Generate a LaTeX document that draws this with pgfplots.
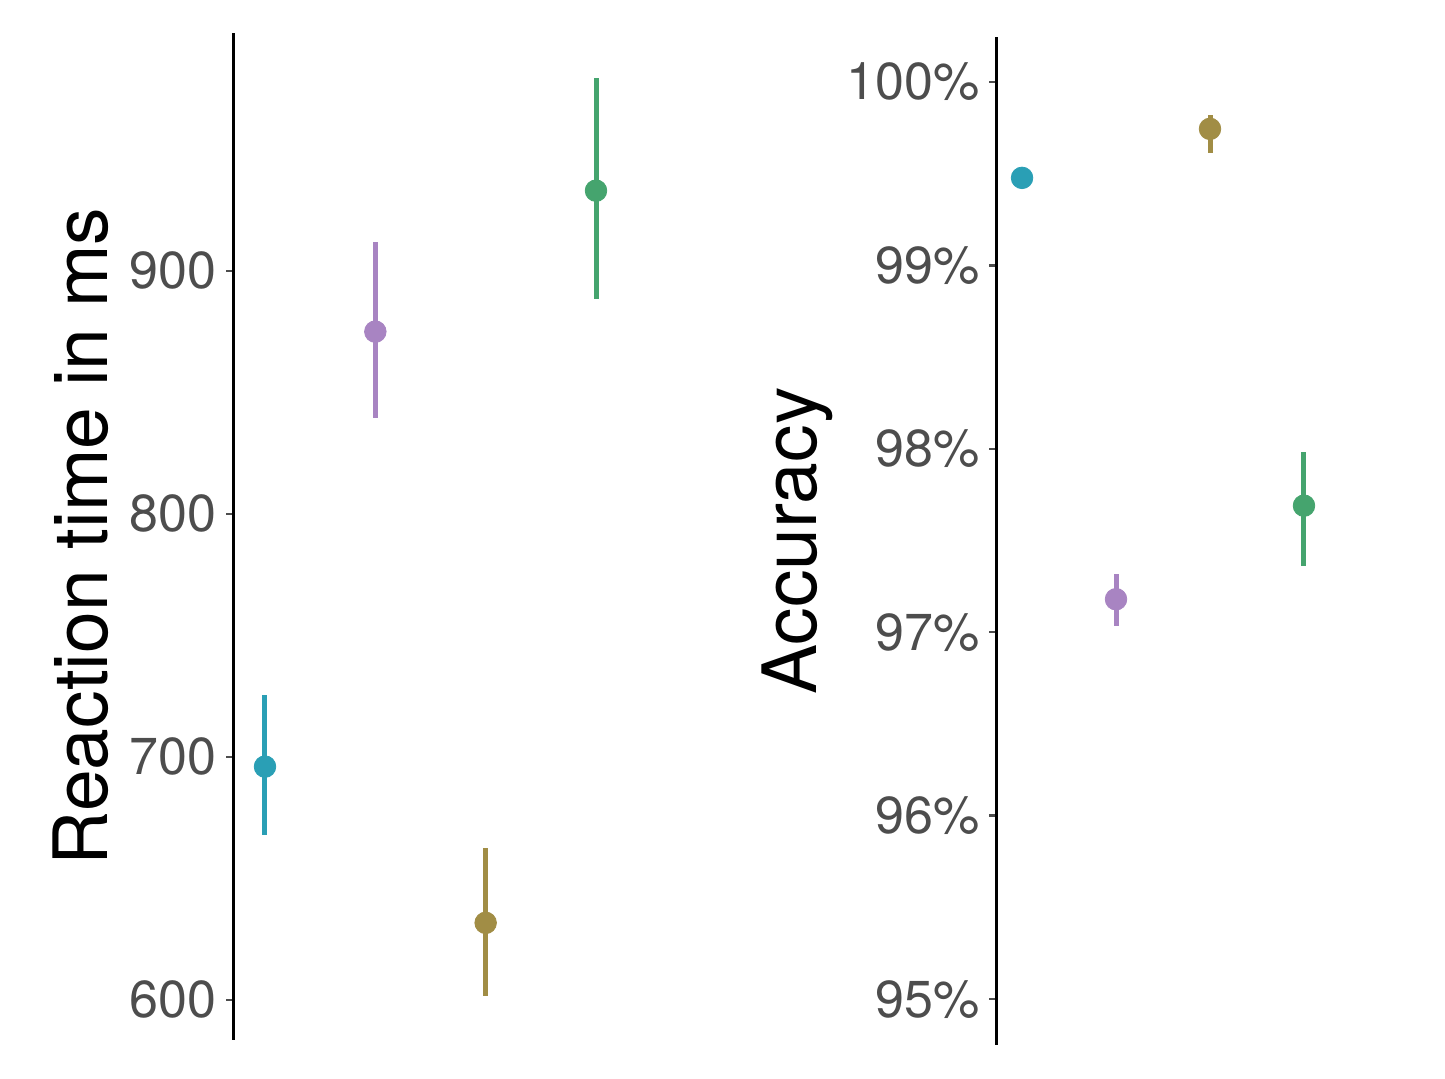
\documentclass[border=0pt]{standalone}
\usepackage{pgfplots}
\pgfplotsset{compat=1.18}
\usepackage{fontspec}
\setmainfont{TeX Gyre Heros}
\definecolor{cblue}{HTML}{2A9FB5}
\definecolor{cpurple}{HTML}{A884C2}
\definecolor{colive}{HTML}{A18D45}
\definecolor{cgreen}{HTML}{45A46E}
\definecolor{tickgray}{HTML}{4D4D4D}
\pgfplotsset{
  panel/.style={
    scale only axis,
    axis y line*=left,
    axis x line=none,
    xtick=\empty,
    y axis line style={black, line width=1.5pt, -},
    tick align=outside,
    major tick length=3.5pt,
    ytick style={color=tickgray, line width=1.2pt},
    yticklabel style={font=\fontsize{26}{30}\selectfont, color=tickgray, inner xsep=4.5pt},
    ylabel style={font=\fontsize{37.5}{42}\selectfont, color=black},
    /pgf/number format/assume math mode=true,
    clip=false,
  },
  ebar/.style={
    only marks, mark=*, mark size=5.4pt,
    error bars/.cd, y dir=both, y explicit,
    error bar style={line width=2.5pt}, error mark=none,
    /pgfplots/.cd,
  },
}
\begin{document}
\begin{tikzpicture}
\path[use as bounding box] (0,0) rectangle (722.5pt,539.5pt);
\begin{axis}[panel,
  at={(116.5pt,19.5pt)}, anchor=south west,
  width=197.5pt, height=503.5pt,
  xmin=-0.29, xmax=3.29,
  ymin=583.5, ymax=997.9,
  ytick={600,700,800,900},
  ylabel={Reaction time in ms},
  ylabel style={at={(axis description cs:-0.385,0.5)}, anchor=center},
]
\addplot[cblue, ebar] coordinates {(0,696) += (0,29.5) -= (0,28)};
\addplot[cpurple, ebar] coordinates {(1,875) += (0,37) -= (0,35.5)};
\addplot[colive, ebar] coordinates {(2,631.7) += (0,31) -= (0,30)};
\addplot[cgreen, ebar] coordinates {(3,933) += (0,46.4) -= (0,44.5)};
\end{axis}
\begin{axis}[panel,
  at={(498pt,17pt)}, anchor=south west,
  width=167pt, height=504pt,
  xmin=-0.277, xmax=3.277,
  ymin=94.75, ymax=100.245,
  ytick={95,96,97,98,99,100},
  yticklabel={\pgfmathprintnumber[fixed,precision=0]{\tick}\%},
  ylabel={Accuracy},
  ylabel style={at={(axis description cs:-0.596,0.5)}, anchor=center},
]
\addplot[cblue, ebar] coordinates {(0,99.477) += (0,0.03) -= (0,0.03)};
\addplot[cpurple, ebar] coordinates {(1,97.18) += (0,0.14) -= (0,0.145)};
\addplot[colive, ebar] coordinates {(2,99.744) += (0,0.076) -= (0,0.131)};
\addplot[cgreen, ebar] coordinates {(3,97.69) += (0,0.294) -= (0,0.33)};
\end{axis}
\end{tikzpicture}
\end{document}
